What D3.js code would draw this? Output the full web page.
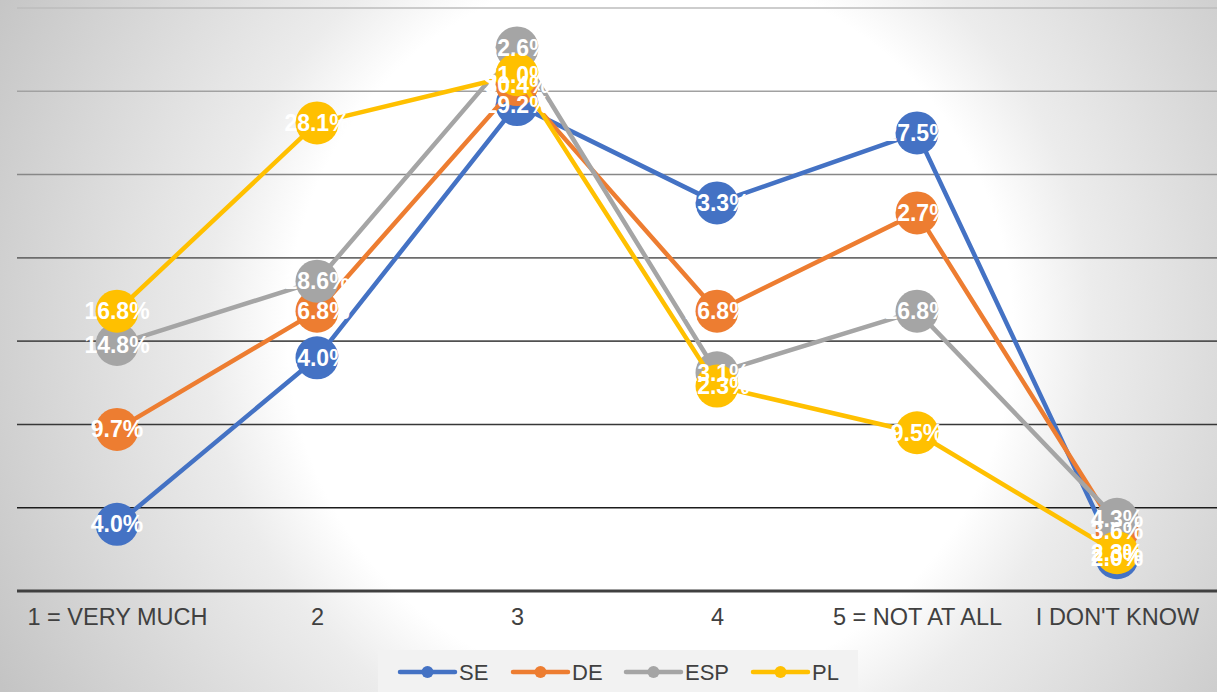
<!DOCTYPE html>
<html>
<head>
<meta charset="utf-8">
<script src="https://cdn.jsdelivr.net/npm/d3@7"></script>
<style>
  body { margin: 0; overflow: hidden; }
  svg { display: block; font-family: "Liberation Sans", Arial, sans-serif; }
</style>
</head>
<body>
<div id="chart"></div>
<script>
// answer categories on the x axis
const categories = ['1 = VERY MUCH', '2', '3', '4', '5 = NOT AT ALL', "I DON'T KNOW"]

// share of answers per country, in percent
const seValues  = [4.0, 14.0, 29.2, 23.3, 27.5, 2.0]
const deValues  = [9.7, 16.8, 30.4, 16.8, 22.7, 3.6]
const espValues = [14.8, 18.6, 32.6, 13.1, 16.8, 4.3]
const plValues  = [16.8, 28.1, 31.0, 12.3, 9.5, 2.3]

const seriesNames = ['SE', 'DE', 'ESP', 'PL']
const seriesColors = ['#4472c4', '#ed7d31', '#a5a5a5', '#ffc000']
const yTicks = [5, 10, 15, 20, 25, 30, 35]

const series = [seValues, deValues, espValues, plValues].map(function (v, i) {
	return { name: seriesNames[i], color: seriesColors[i], values: v }
})

let width = 1217
	, height = 692
	, x = d3.scalePoint()
		.domain(categories)
		.range([17, 1217])
		.padding(0.5)
	, y = d3.scaleLinear()
		.domain([0, 35])
		.range([591, 8])
	, gridColor = d3.scaleLinear()
		.domain([5, 35])
		.range(['#1c1c1c', '#bcbcbc'])

const svg = d3.select('#chart')
	.append('svg')
	  .attr('width', width)
	  .attr('height', height)

// radial background, white in the middle (white labels vanish there, as in the original)
const grad = svg.append('defs')
	.append('radialGradient')
	  .attr('id', 'bg')
	  .attr('gradientUnits', 'userSpaceOnUse')
	  .attr('cx', 650)
	  .attr('cy', 330)
	  .attr('r', 740)
grad.append('stop').attr('offset', '0').attr('stop-color', '#ffffff')
grad.append('stop').attr('offset', '0.49').attr('stop-color', '#ffffff')
grad.append('stop').attr('offset', '0.6').attr('stop-color', '#ececec')
grad.append('stop').attr('offset', '1').attr('stop-color', '#c4c4c4')

svg.append('rect')
	.attr('width', width)
	.attr('height', height)
	.attr('fill', 'url(#bg)')

// gridlines
svg.append('g')
	.selectAll('line')
	.data(yTicks)
	.join('line')
	  .attr('x1', 17)
	  .attr('x2', width)
	  .attr('y1', function (d) { return y(d) })
	  .attr('y2', function (d) { return y(d) })
	  .attr('stroke', function (d) { return gridColor(d) })
	  .attr('stroke-width', 1.6)

// baseline and category labels
const xAxis = svg.append('g')
	.attr('transform', 'translate(0,' + y(0) + ')')
	.call(d3.axisBottom(x).tickSize(0).tickPadding(17))
xAxis.select('.domain')
	.attr('d', 'M17,0H' + width)
	.attr('stroke', '#404040')
	.attr('stroke-width', 3)
xAxis.selectAll('text')
	.attr('fill', '#404040')
	.style('font-size', '23.5px')
	.style('font-family', '"Liberation Sans", Arial, sans-serif')

const line = d3.line()
	.x(function (d, i) { return x(categories[i]) })
	.y(function (d) { return y(d) })

const seriesG = svg.append('g')
	.selectAll('g')
	.data(series)
	.join('g')

seriesG.append('path')
	.attr('d', function (s) { return line(s.values) })
	.attr('fill', 'none')
	.attr('stroke', function (s) { return s.color })
	.attr('stroke-width', 4.5)
	.attr('stroke-linejoin', 'round')

seriesG.selectAll('circle')
	.data(function (s) { return s.values.map(function (v, i) { return { v: v, i: i, color: s.color } }) })
	.join('circle')
	  .attr('cx', function (d) { return x(categories[d.i]) })
	  .attr('cy', function (d) { return y(d.v) })
	  .attr('r', 21.5)
	  .attr('fill', function (d) { return d.color })

// data labels on top of every marker
const labelData = []
series.forEach(function (s) {
	s.values.forEach(function (v, i) { labelData.push({ v: v, i: i }) })
})
svg.append('g')
	.selectAll('text')
	.data(labelData)
	.join('text')
	  .attr('x', function (d) { return x(categories[d.i]) })
	  .attr('y', function (d) { return y(d.v) })
	  .attr('dy', '0.35em')
	  .attr('text-anchor', 'middle')
	  .attr('fill', '#ffffff')
	  .style('font-size', '23px')
	  .style('font-weight', 'bold')
	  .text(function (d) { return d.v.toFixed(1) + '%' })

// legend
const legend = svg.append('g')
legend.append('rect')
	.attr('x', 378)
	.attr('y', 650)
	.attr('width', 480)
	.attr('height', 42)
	.attr('fill', '#f2f2f2')

const legendX = [400, 513, 626, 753]
const items = legend.selectAll('g')
	.data(series)
	.join('g')
	  .attr('transform', function (s, i) { return 'translate(' + legendX[i] + ',672)' })
items.append('line')
	.attr('x1', 0)
	.attr('x2', 55)
	.attr('stroke', function (s) { return s.color })
	.attr('stroke-width', 4.5)
	.attr('stroke-linecap', 'round')
items.append('circle')
	.attr('cx', 27.5)
	.attr('r', 6)
	.attr('fill', function (s) { return s.color })
items.append('text')
	.attr('x', 59)
	.attr('dy', '0.35em')
	.attr('fill', '#404040')
	.style('font-size', '22px')
	.text(function (s) { return s.name })
</script>
</body>
</html>
